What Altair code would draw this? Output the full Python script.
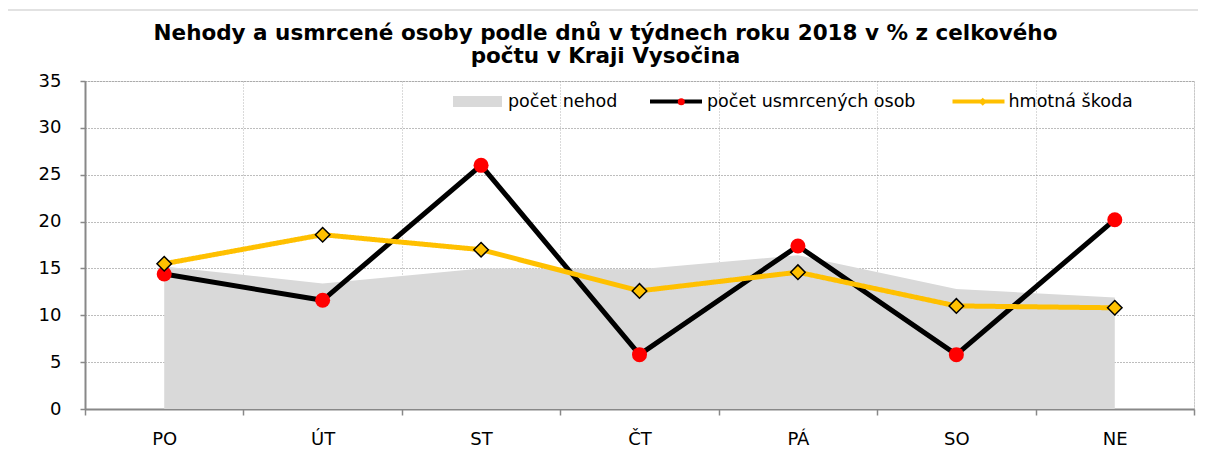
import altair as alt
import pandas as pd

days = ["PO", "ÚT", "ST", "ČT", "PÁ", "SO", "NE"]
pocet_nehod = [15.2, 13.4, 15.0, 14.9, 16.4, 12.8, 11.9]
pocet_usmrcenych = [14.4, 11.6, 26.0, 5.8, 17.4, 5.8, 20.2]
hmotna_skoda = [15.5, 18.6, 17.0, 12.6, 14.6, 11.0, 10.8]
series_names = ["počet nehod", "počet usmrcených osob", "hmotná škoda"]
y_ticks = [0, 5, 10, 15, 20, 25, 30, 35]
title_lines = [
    "Nehody a usmrcené osoby podle dnů v týdnech roku 2018 v % z celkového",
    "počtu v Kraji Vysočina",
]

df_n = pd.DataFrame({"den": days, "hodnota": pocet_nehod, "serie": series_names[0]})
df_u = pd.DataFrame({"den": days, "hodnota": pocet_usmrcenych,
                     "serie": series_names[1], "znacka": series_names[1]})
df_s = pd.DataFrame({"den": days, "hodnota": hmotna_skoda,
                     "cara": series_names[2], "bod": series_names[2]})

FONT = "DejaVu Sans"
AXIS_GRAY = "#888888"

x_axis = alt.Axis(
    title=None, labelAngle=0, tickBand="extent", grid=True,
    gridColor="#b4b4b4", gridDash=[1, 2], gridWidth=1,
    domainColor=AXIS_GRAY, domainWidth=2, tickColor=AXIS_GRAY, tickSize=6, tickWidth=1.5,
    labelFont=FONT, labelFontSize=18, labelColor="black", labelPadding=15,
)
y_axis = alt.Axis(
    title=None, values=y_ticks, grid=True, gridColor="#7a7a7a", gridDash=[1, 2], gridWidth=1,
    domainColor=AXIS_GRAY, domainWidth=2, tickColor=AXIS_GRAY, tickSize=5, tickWidth=1.5,
    labelFont=FONT, labelFontSize=18, labelColor="black", labelPadding=19,
)


def xenc():
    return alt.X("den:N", sort=days, bandPosition=0.5,
                 scale=alt.Scale(type="band", paddingInner=0, paddingOuter=0),
                 axis=x_axis)


def yenc(stack=False):
    if stack:
        return alt.Y("hodnota:Q", stack=None, scale=alt.Scale(domain=[0, 35], nice=False), axis=y_axis)
    return alt.Y("hodnota:Q", scale=alt.Scale(domain=[0, 35], nice=False), axis=y_axis)


def leg(x, y, **kw):
    base = dict(orient="none", legendX=x, legendY=y, title=None, padding=0, labelLimit=400,
                labelFont=FONT, labelFontSize=17.5, labelColor="black", symbolOpacity=1)
    base.update(kw)
    return alt.Legend(**base)


frame = alt.Chart(pd.DataFrame({"r": [0]})).mark_rect(
    fillOpacity=0, stroke="#d9d9d9", strokeWidth=1.5, clip=False
).encode(x=alt.value(-78), x2=alt.value(1140), y=alt.value(-71), y2=alt.value(400))

area = alt.Chart(df_n).mark_area(opacity=1).encode(
    x=xenc(), y=yenc(stack=True),
    color=alt.Color("serie:N", scale=alt.Scale(range=["#d9d9d9"]),
                    legend=leg(366.5, -5.5, symbolType="M-0.942,-0.21H0.942V0.21H-0.942Z",
                               symbolSize=2704, symbolStrokeWidth=0, labelOffset=4.5)),
)

line_u = alt.Chart(df_u).mark_line(strokeWidth=5).encode(
    x=xenc(), y=yenc(),
    stroke=alt.Stroke("serie:N", scale=alt.Scale(range=["black"]),
                      legend=leg(563, -7.5, symbolType="stroke", symbolSize=2704,
                                 symbolStrokeWidth=4, labelOffset=3, zindex=1)),
)

pts_u = alt.Chart(df_u).mark_point(filled=True, shape="circle", size=225, opacity=1, strokeWidth=0).encode(
    x=xenc(), y=yenc(),
    fill=alt.Fill("znacka:N", scale=alt.Scale(range=["#ff0000"]),
                  legend=leg(587.5, 12, symbolType="circle", symbolSize=49, labelExpr="' '",
                             symbolStrokeWidth=0, labelOpacity=0, zindex=2)),
)

line_s = alt.Chart(df_s).mark_line(strokeWidth=5, color="#ffc000").encode(
    x=xenc(), y=yenc(),
    strokeDash=alt.StrokeDash("cara:N", scale=alt.Scale(range=[[1, 0]]),
                              legend=leg(865.5, -7.5, symbolType="stroke", symbolSize=2704,
                                         symbolStrokeColor="#ffc000", symbolStrokeWidth=4,
                                         labelOffset=2, zindex=1)),
)

pts_s = alt.Chart(df_s).mark_point(shape="diamond", filled=True, fill="#ffc000", stroke="black",
                                   strokeWidth=1.5, size=210, opacity=1).encode(
    x=xenc(), y=yenc(),
    shape=alt.Shape("bod:N", scale=alt.Scale(range=["diamond"]),
                    legend=leg(889, 12, symbolSize=64, symbolFillColor="#ffc000", labelExpr="' '",
                               symbolStrokeColor="black", symbolStrokeWidth=1,
                               labelOpacity=0, zindex=2)),
)

chart = alt.layer(frame, area, line_u, pts_u, line_s, pts_s).properties(
    width=1109, height=328,
    title=alt.TitleParams(text=title_lines, font=FONT, fontSize=21.5, fontWeight="bold",
                          color="black", anchor="middle", dx=-34, dy=68, offset=10, lineHeight=23),
    padding={"left": 77, "top": 73, "right": 4, "bottom": 38},
    autosize=alt.AutoSizeParams(type="none"),
).configure_view(stroke="#b0b0b0", strokeWidth=1).configure(font=FONT)

chart.save("out.html", embed_options={"renderer": "svg", "actions": False})
